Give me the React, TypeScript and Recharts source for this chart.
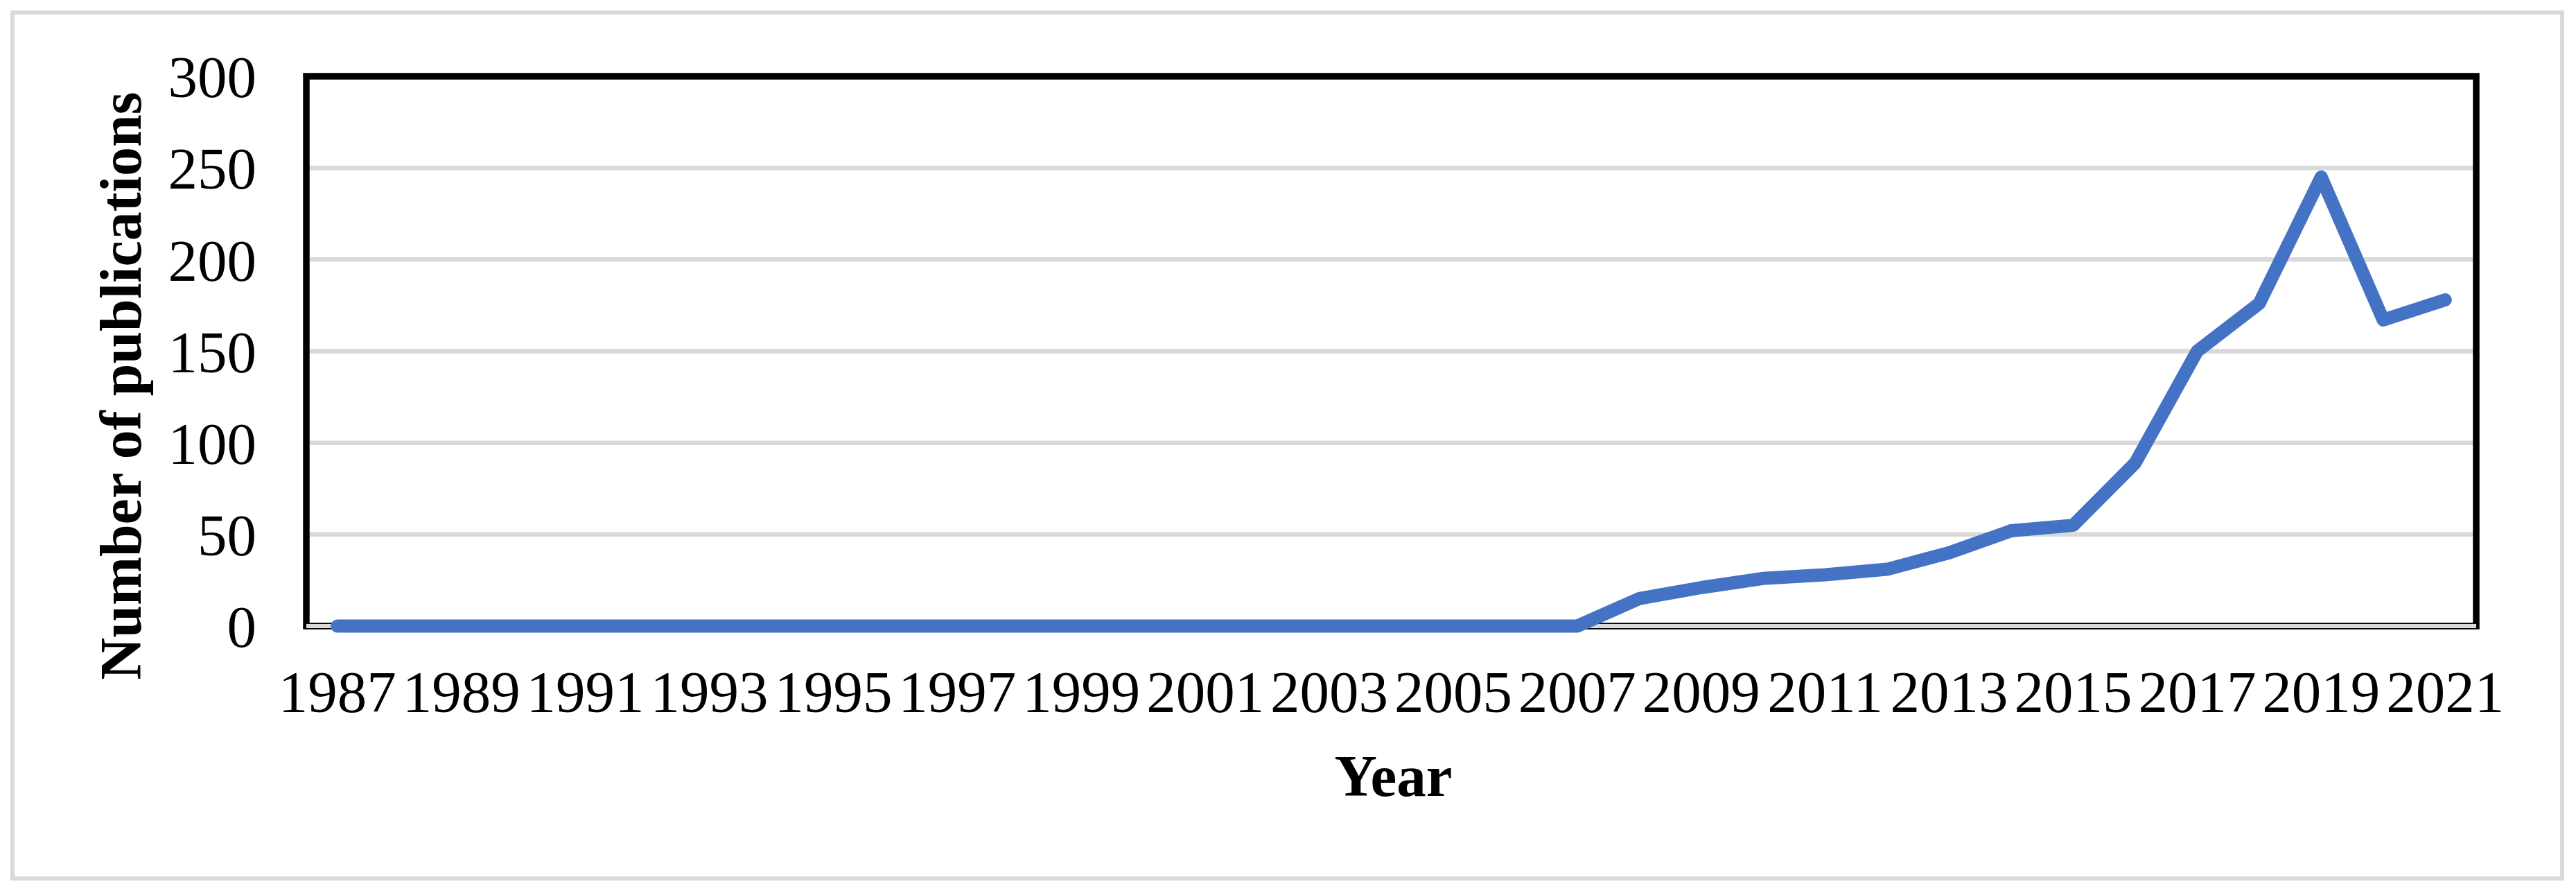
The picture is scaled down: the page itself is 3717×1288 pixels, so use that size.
import React from 'react';
import { LineChart, Line, XAxis, YAxis, CartesianGrid, ReferenceArea, Label } from 'recharts';

const years = [
  1987, 1988, 1989, 1990, 1991, 1992, 1993, 1994, 1995, 1996, 1997, 1998,
  1999, 2000, 2001, 2002, 2003, 2004, 2005, 2006, 2007, 2008, 2009, 2010,
  2011, 2012, 2013, 2014, 2015, 2016, 2017, 2018, 2019, 2020, 2021,
];
const publications = [
  0, 0, 0, 0, 0, 0, 0, 0, 0, 0, 0, 0,
  0, 0, 0, 0, 0, 0, 0, 0, 0, 15, 21, 26,
  28, 31, 40, 52, 55, 89, 150, 176, 245, 167, 178,
];
const xTicks = [1987, 1989, 1991, 1993, 1995, 1997, 1999, 2001, 2003, 2005, 2007, 2009, 2011, 2013, 2015, 2017, 2019, 2021];
const yTicks = [0, 50, 100, 150, 200, 250, 300];
const xTitle = 'Year';
const yTitle = 'Number of publications';

const data = years.map((year, i) => ({ year, value: publications[i] }));

const FONT = '"Liberation Serif", "Times New Roman", Times, serif';

const YTitle = (props: any) => {
  const vb = props.viewBox || { x: 0, y: 0, width: 0, height: 0 };
  const x = vb.x + 203;
  const y = vb.y + vb.height / 2 + 50;
  return (
    <text
      x={x}
      y={y}
      transform={`rotate(-90, ${x}, ${y})`}
      textAnchor="middle"
      fontFamily={FONT}
      fontWeight="bold"
      fontSize={84}
      fill="#000"
    >
      {yTitle}
    </text>
  );
};

const XTitle = (props: any) => {
  const vb = props.viewBox || { x: 0, y: 0, width: 0, height: 0 };
  const x = vb.x + vb.width / 2 + 3;
  const y = vb.y + 245;
  return (
    <text x={x} y={y} textAnchor="middle" fontFamily={FONT} fontWeight="bold" fontSize={85} fill="#000">
      {xTitle}
    </text>
  );
};

export default function App() {
  return (
    <div style={{ position: 'absolute', left: 0, top: 0, width: 3717, height: 1288, background: '#fff' }}>
      <div
        style={{
          position: 'absolute',
          left: 15,
          top: 15,
          width: 3685,
          height: 1255,
          border: '6px solid #d9d9d9',
          boxSizing: 'border-box',
        }}
      />
      <div style={{ position: 'absolute', left: 0, top: 0 }}>
        <LineChart
          width={3717}
          height={1288}
          data={data}
          margin={{ top: 110, right: 144, bottom: 0, left: 0 }}
        >
          <CartesianGrid horizontal vertical={false} stroke="#d9d9d9" strokeWidth={6.5} />
          <ReferenceArea
            x1={1986.5}
            x2={2021.5}
            y1={0}
            y2={300}
            fill="none"
            fillOpacity={0}
            stroke="#000"
            strokeWidth={9.5}
            ifOverflow="visible"
          />
          <XAxis
            dataKey="year"
            type="number"
            domain={[1986.5, 2021.5]}
            ticks={xTicks}
            interval={0}
            height={385}
            tickLine={false}
            tickSize={0}
            tickMargin={64}
            axisLine={{ stroke: '#d9d9d9', strokeWidth: 6 }}
            tick={{ fontSize: 85, fill: '#000', fontFamily: FONT }}
          >
            <Label content={XTitle} />
          </XAxis>
          <YAxis
            type="number"
            domain={[0, 300]}
            ticks={yTicks}
            interval={0}
            width={442}
            axisLine={false}
            tickLine={false}
            tickSize={0}
            tickMargin={72}
            tick={{ fontSize: 85, fill: '#000', fontFamily: FONT }}
          >
            <Label content={YTitle} />
          </YAxis>
          <Line
            type="linear"
            dataKey="value"
            stroke="#4472C4"
            strokeWidth={19}
            strokeLinejoin="round"
            strokeLinecap="round"
            dot={false}
            activeDot={false}
            isAnimationActive={false}
            zIndex={600}
          />
        </LineChart>
      </div>
    </div>
  );
}
